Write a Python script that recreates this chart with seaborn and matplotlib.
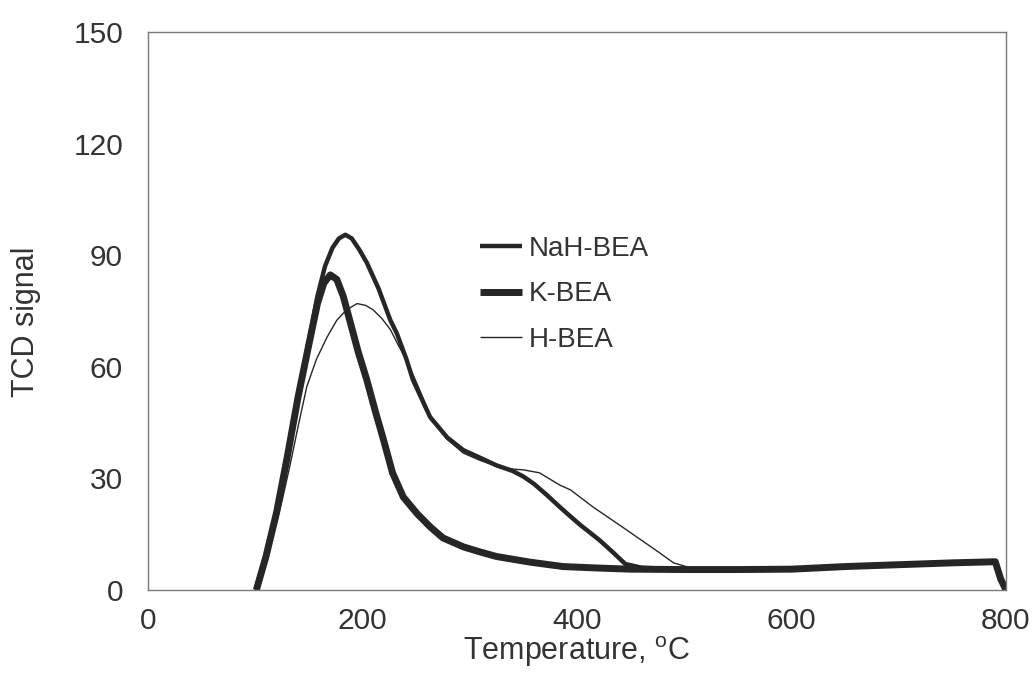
import numpy as np
import pandas as pd
import matplotlib
matplotlib.use("Agg")
import matplotlib.pyplot as plt
import seaborn as sns

# ---- data ----
series_names = ["NaH-BEA", "K-BEA", "H-BEA"]

tail_x = [550, 600, 650, 700, 750, 790, 795, 800]
tail_y = [5.5, 5.6, 6.3, 6.8, 7.3, 7.6, 3.0, 0.0]

k_x = [101, 110, 120, 130, 140, 150, 158, 164, 170, 176, 182, 188, 196, 204,
       212, 219, 228, 238, 251, 263, 275, 294, 310, 325, 356, 387, 420, 450, 500]
k_y = [0, 9, 21, 36, 52, 66, 77, 82.5, 84.7, 83.5, 79, 72.6, 64, 56.5,
       48, 41, 31.5, 25, 20.5, 17, 14, 11.6, 10.2, 9, 7.5, 6.3, 5.9, 5.6, 5.5]

nah_x = [101, 110, 120, 130, 140, 150, 158, 165, 172, 178, 184, 190, 197, 204,
         215, 226, 232, 241, 247, 263, 279, 294, 310, 325, 340, 350, 360, 372,
         384, 393, 403, 421, 434, 445, 460, 500]
nah_y = [0, 9, 21, 36, 52, 67, 79, 87, 92, 94.5, 95.5, 94.5, 91.5, 88,
         81, 72.5, 69, 62, 56.5, 46.5, 41, 37.6, 35.5, 33.5, 32, 30.5, 28.5, 25.5,
         22.3, 20, 17.5, 13.4, 10, 7, 6, 5.5]

h_x = [101, 110, 118, 125, 132, 140, 148, 157, 167, 176, 185, 195, 203, 210,
       218, 226, 233, 241, 250, 263, 279, 294, 310, 325, 340, 350, 365, 384,
       394, 415, 447, 477, 490, 503, 520]
h_y = [0, 8, 16, 24, 33, 44, 54.6, 62, 68, 72.5, 75.3, 77, 76.5, 75.3,
       73, 70, 66, 61.8, 56, 47, 40.5, 36.8, 34.8, 33.3, 32.5, 32.3, 31.5, 28.2,
       26.9, 22.3, 16, 10, 7.3, 6.2, 5.5]

x_ticks = [0, 200, 400, 600, 800]
y_ticks = [0, 30, 60, 90, 120, 150]

# ---- figure ----
sns.set_theme(style="white")
plt.rcParams["font.family"] = ["Liberation Sans", "DejaVu Sans"]
plt.rcParams["mathtext.fontset"] = "custom"
plt.rcParams["mathtext.rm"] = "Liberation Sans"

fig = plt.figure(figsize=(10.35, 6.83), dpi=100)
ax = fig.add_axes([148 / 1035, 1 - 590 / 683, (1006 - 148) / 1035, (590 - 32) / 683])

line_col = "#262626"
text_col = "#333333"
widths = {"NaH-BEA": 3.2, "K-BEA": 5.0, "H-BEA": 1.0}
data = {
    "NaH-BEA": (nah_x + tail_x, nah_y + tail_y),
    "K-BEA": (k_x + tail_x, k_y + tail_y),
    "H-BEA": (h_x + tail_x, h_y + tail_y),
}
handles = []
for name in series_names:
    xs, ys = data[name]
    df = pd.DataFrame({"Temperature": xs, "TCD": ys})
    sns.lineplot(data=df, x="Temperature", y="TCD", ax=ax, color=line_col,
                 linewidth=widths[name], sort=False, estimator=None,
                 solid_joinstyle="round", solid_capstyle="butt")
    handles.append(ax.lines[-1])

ax.set_xlim(0, 800)
ax.set_ylim(0, 150)
ax.set_xticks(x_ticks)
ax.set_yticks(y_ticks)
ax.tick_params(axis="both", length=0, labelsize=21.5, colors=text_col)
ax.tick_params(axis="y", pad=18)
ax.tick_params(axis="x", pad=12)
for s in ax.spines.values():
    s.set_color("#7a7a7a")
    s.set_linewidth(1.0)

ax.set_xlabel("Temperature, $^{\\mathrm{o}}$C", fontsize=22, color=text_col, labelpad=0)
ax.set_ylabel("TCD signal", fontsize=22, color=text_col)
ax.yaxis.set_label_coords(-0.125, 0.48)

leg = ax.legend(handles, series_names, loc="center left",
                bbox_to_anchor=(0.387, 0.53), frameon=False, fontsize=20,
                handlelength=1.5, handletextpad=0.25, labelspacing=0.7,
                borderpad=0, borderaxespad=0, labelcolor=text_col)

fig.savefig("out.png", dpi=100)
